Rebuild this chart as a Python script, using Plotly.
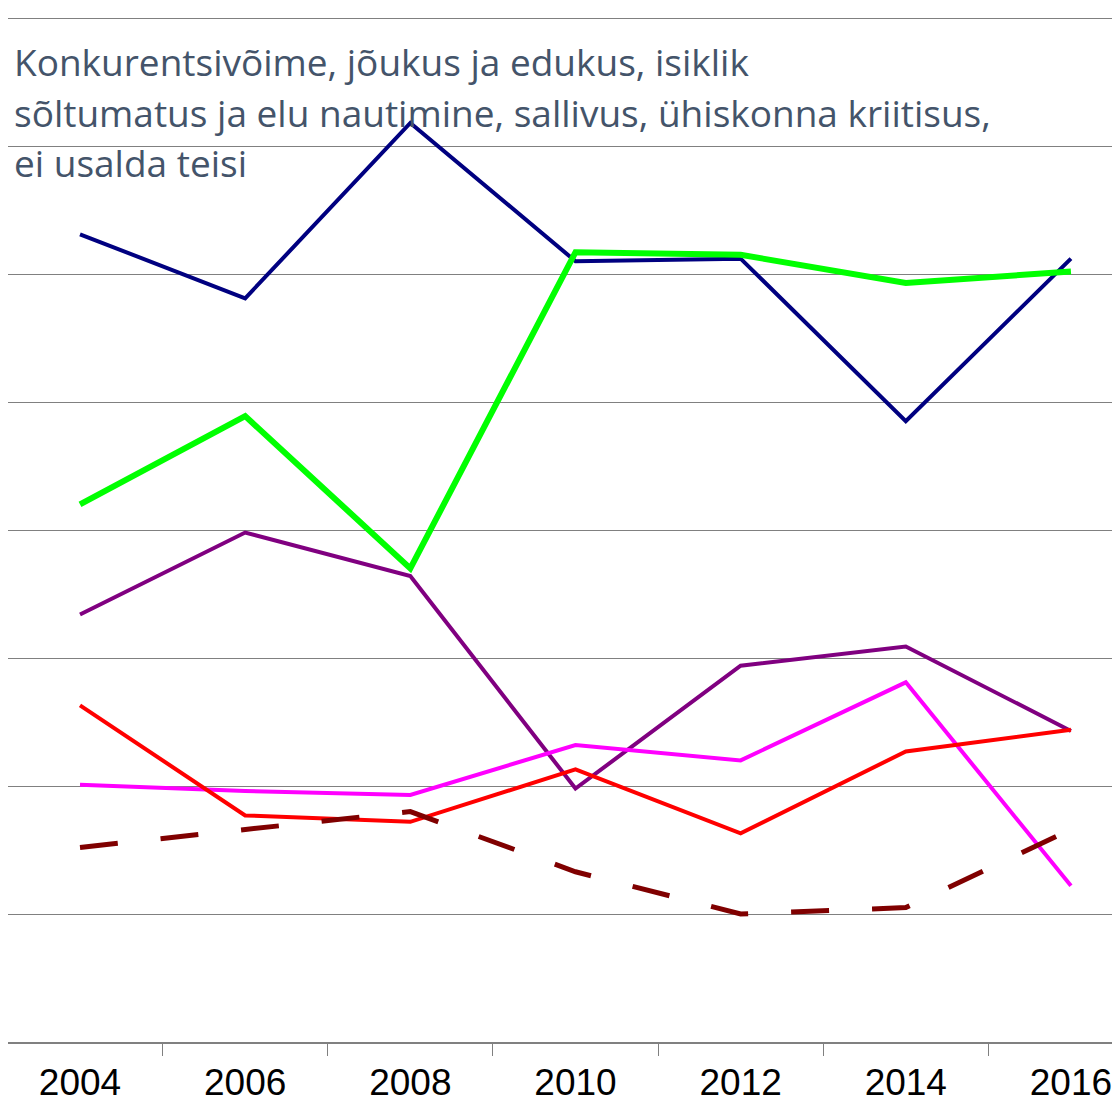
import plotly.graph_objects as go

years = ["2004", "2006", "2008", "2010", "2012", "2014", "2016"]

navy_vals = [6.31, 5.81, 7.18, 6.10, 6.12, 4.85, 6.12]
green_vals = [4.20, 4.89, 3.70, 6.17, 6.15, 5.93, 6.02]
purple_vals = [3.34, 3.98, 3.64, 1.98, 2.94, 3.09, 2.43]
magenta_vals = [2.01, 1.96, 1.93, 2.32, 2.20, 2.81, 1.22]
red_vals = [2.63, 1.77, 1.72, 2.13, 1.63, 2.27, 2.44]
darkred_vals = [1.52, 1.66, 1.80, 1.33, 1.00, 1.05, 1.66]

title_lines = [
    "Konkurentsivõime, jõukus ja edukus, isiklik",
    "sõltumatus ja elu nautimine, sallivus, ühiskonna kriitisus,",
    "ei usalda teisi",
]

series = [
    (navy_vals, "#000080", 4, "solid"),
    (green_vals, "#00FF00", 6, "solid"),
    (purple_vals, "#800080", 4, "solid"),
    (magenta_vals, "#FF00FF", 4, "solid"),
    (red_vals, "#FF0000", 4, "solid"),
    (darkred_vals, "#800000", 5, "38px,43px"),
]

# page body has an 8px margin, so the figure is sized to fit the window
W, H = 1112, 1098
plot_h = 1034

fig = go.Figure()
for vals, color, width, dash in series:
    fig.add_trace(go.Scatter(
        x=years, y=vals, mode="lines",
        line=dict(color=color, width=width, dash=dash),
        showlegend=False,
    ))

for i, line in enumerate(title_lines):
    fig.add_annotation(
        text=line, xref="paper", yref="paper",
        x=4 / W, y=1 - (54 + 50 * i) / plot_h,
        xanchor="left", yanchor="middle", showarrow=False,
        font=dict(family="Open Sans", size=37, color="#44546A"),
    )

fig.update_xaxes(
    type="category", range=[-0.436, 6.297],
    tickson="boundaries", ticks="outside", ticklen=12, tickcolor="#808080",
    showline=True, linecolor="#808080", linewidth=1.5,
    showgrid=False, zeroline=False, ticklabelstandoff=7,
    tickfont=dict(family="Liberation Sans", size=37, color="black"),
)
fig.update_yaxes(
    range=[0, plot_h / 128], dtick=1, showticklabels=False,
    showgrid=True, gridcolor="#808080", gridwidth=1.2, zeroline=False,
)
fig.update_layout(
    width=W, height=H,
    margin=dict(l=0, r=0, t=0, b=H - plot_h, autoexpand=False),
    plot_bgcolor="white", paper_bgcolor="white",
)

fig.write_html("out.html")
